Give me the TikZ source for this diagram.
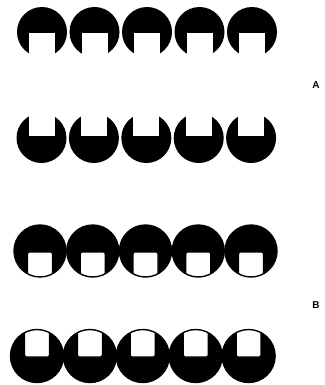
\documentclass[tikz,border=0pt]{standalone}
\usepackage{fontspec}
\setsansfont{Liberation Sans}
\begin{document}
\begin{tikzpicture}[x=1pt,y=-1pt,
  disc/.style={fill=black},
  hole/.style={fill=white},
  box/.style={fill=white,draw=black,line width=1.3pt,rounded corners=1.5pt},
  ring/.style={draw=black,line width=1.4pt},
  lbl/.style={font=\sffamily\bfseries\fontsize{10}{12}\selectfont,inner sep=0pt}]
\useasboundingbox (0,0) rectangle (324,385);
% Row 1 (A, notch below)
\foreach \i in {0,...,4} {
  \pgfmathsetmacro\cx{42+52.5*\i}
  \fill[disc] (\cx,32) circle (25pt);
  \fill[hole] (\cx-13,33) rectangle (\cx+13,60);
}
% Row 2 (A, notch above)
\foreach \i in {0,...,4} {
  \pgfmathsetmacro\cx{41.5+52.4*\i}
  \fill[disc] (\cx,138) circle (25pt);
  \fill[hole] (\cx-13,110) rectangle (\cx+13,136);
}
% Row 3 (B, window below)
\foreach \i in {0,...,4} {
  \pgfmathsetmacro\cx{40+52.75*\i}
  \fill[disc] (\cx,251) circle (26pt);
  \begin{scope}
    \clip (\cx,251) circle (26pt);
    \filldraw[box] (\cx-12.5,252) rectangle (\cx+12.5,285);
  \end{scope}
  \draw[ring] (\cx,251) circle (26pt);
}
% Row 4 (B, window above)
\foreach \i in {0,...,4} {
  \pgfmathsetmacro\cx{37+52.9*\i}
  \fill[disc] (\cx,356) circle (26.5pt);
  \begin{scope}
    \clip (\cx,356) circle (26.5pt);
    \filldraw[box] (\cx-12.5,322) rectangle (\cx+12.5,357);
  \end{scope}
  \draw[ring] (\cx,356) circle (26.5pt);
}
\node[lbl] (labA) at (316,85) {A};
\node[lbl] (labB) at (316,305) {B};
\end{tikzpicture}
\end{document}
